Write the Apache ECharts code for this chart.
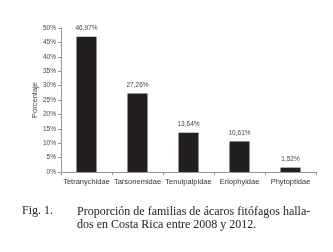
<!DOCTYPE html>
<html><head><meta charset="utf-8">
<script src="https://cdn.jsdelivr.net/npm/echarts@6/dist/echarts.min.js"></script>
<style>html,body{margin:0;padding:0;background:#fff}#c{width:333px;height:252px}</style>
</head><body><div id="c"></div>
<script>
var categories = ['Tetranychidae','Tarsonemidae','Tenuipalpidae','Eriophyidae','Phytoptidae'];
var values = [46.97, 27.26, 13.64, 10.61, 1.52];
var yTicks = [0,5,10,15,20,25,30,35,40,45,50];
var yName = 'Porcentaje';
var captionLabel = 'Fig. 1.';
var captionLines = ['Proporción de familias de ácaros fitófagos halla-','dos en Costa Rica entre 2008 y 2012.'];

var chart = echarts.init(document.getElementById('c'), null, {renderer:'canvas'});
chart.setOption({
  animation:false,
  backgroundColor:'#fff',
  grid:{left:61, right:17, top:28, bottom:80, containLabel:false},
  xAxis:{type:'category', data:categories,
    axisLine:{lineStyle:{color:'#999', width:1}},
    axisTick:{show:true, alignWithLabel:false, length:3, lineStyle:{color:'#999'}},
    axisLabel:{color:'#333', fontSize:7.5, fontFamily:'Liberation Sans, Arial', margin:6, interval:0}},
  yAxis:{type:'value', min:yTicks[0], max:yTicks[yTicks.length-1], interval:5,
    name:yName, nameLocation:'middle', nameGap:22, nameRotate:90, nameMoveOverlap:false,
    nameTextStyle:{color:'#444', fontSize:7.5, fontFamily:'Liberation Sans, Arial'},
    axisLine:{show:true, lineStyle:{color:'#999'}},
    axisTick:{show:true, length:3, lineStyle:{color:'#999'}},
    splitLine:{show:false},
    axisLabel:{color:'#444', fontSize:6.5, fontFamily:'Liberation Sans, Arial', margin:5, formatter:'{value}%'}},
  series:[{type:'bar', data:values, barWidth:20,
    itemStyle:{color:'#231f20'},
    label:{show:true, position:'top', distance:5, color:'#444', fontSize:6.5, fontFamily:'Liberation Sans, Arial',
      formatter:function(p){return p.value.toFixed(2).replace('.',',')+'%';}}}],
  graphic:[
    {type:'text', left:22, top:205, style:{text:captionLabel, font:'12px "Liberation Serif", serif', fill:'#222'}},
    {type:'text', left:77, top:205, style:{text:captionLines.join('\n'), font:'12px "Liberation Serif", serif', fill:'#222', lineHeight:13.5}}
  ]
});
</script></body></html>
